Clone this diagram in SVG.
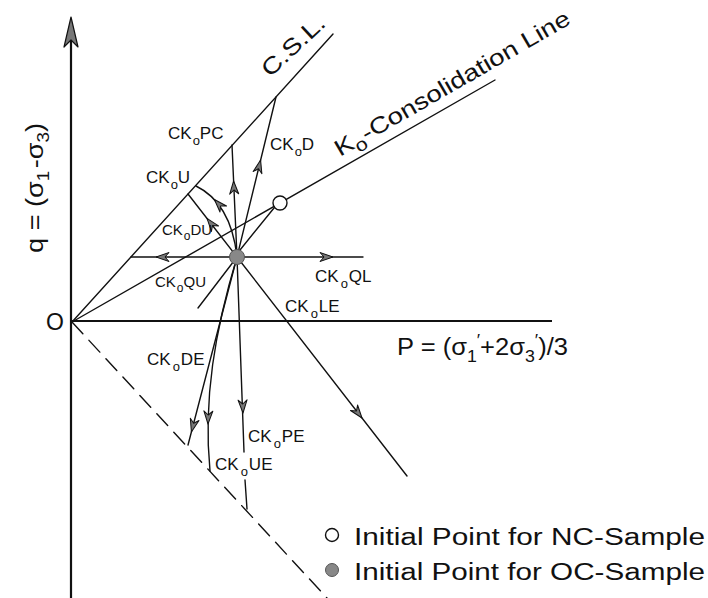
<svg xmlns="http://www.w3.org/2000/svg" width="708" height="598" viewBox="0 0 708 598">
<defs>
<style>
.ln{fill:none;stroke:#111;stroke-width:1.4;stroke-linecap:round}
.ax{fill:none;stroke:#111;stroke-width:2.2}
.lb{font-family:"Liberation Sans",Arial,sans-serif;font-size:17px;fill:#111}
.sm{font-size:15px}
.big{font-family:"Liberation Sans",Arial,sans-serif;font-size:23px;fill:#111}
</style>
<path id="ah" d="M0,0 L-13,-4.5 L-9,0 L-13,4.5 Z" fill="#777" stroke="#111" stroke-width="1" stroke-linejoin="round"/>
</defs>
<rect width="708" height="598" fill="#fff"/>

<g id="axes">
<line class="ax" x1="71" y1="598" x2="71" y2="30"/>
<path d="M71,17 L78,47 L71,40 L64,47 Z" fill="#777" stroke="#111" stroke-width="1.2" stroke-linejoin="round"/>
<line class="ax" x1="72" y1="321" x2="552" y2="321"/>
<text class="big" x="55" y="330" text-anchor="middle">O</text>
<text class="big" font-size="25" transform="translate(43,253) rotate(-90)" textLength="130" lengthAdjust="spacingAndGlyphs">q = (σ<tspan font-size="16" dy="6">1</tspan><tspan dx="2" dy="-6">-σ</tspan><tspan font-size="16" dy="6">3</tspan><tspan dy="-6">)</tspan></text>
<text class="big" x="397" y="355" font-size="26" textLength="171" lengthAdjust="spacingAndGlyphs">P = (σ<tspan font-size="16" dy="7">1</tspan><tspan font-size="16" dy="-16">′</tspan><tspan dy="9">+2σ</tspan><tspan font-size="16" dy="7">3</tspan><tspan font-size="16" dy="-16">′</tspan><tspan dy="9">)/3</tspan></text>
</g>

<g id="csl">
<line class="ln" x1="72" y1="322" x2="333" y2="34"/>
<text class="big" font-size="23" transform="translate(270,78) rotate(-43)" textLength="78" lengthAdjust="spacingAndGlyphs">C.S.L.</text>
</g>

<g id="k0line">
<line class="ln" x1="72" y1="322" x2="495" y2="80"/>
<text class="big" font-size="25" transform="translate(340,157) rotate(-30)" textLength="268" lengthAdjust="spacingAndGlyphs">K<tspan font-size="18" dy="6">o</tspan><tspan dy="-6">-Consolidation Line</tspan></text>
</g>

<g id="envelope">
<line class="ln" x1="72" y1="322" x2="327" y2="598" stroke-dasharray="16 9"/>
</g>

<g id="connectors">
<line class="ln" x1="274" y1="208" x2="240" y2="250"/>
<line class="ln" x1="237" y1="257" x2="232" y2="145"/>
<line class="ln" x1="237" y1="257" x2="276" y2="97"/>
<line class="ln" x1="237" y1="257" x2="188" y2="194"/>
<path class="ln" d="M237,257 Q231,203 196,186"/>
<line class="ln" x1="131" y1="257" x2="363" y2="257"/>
<line class="ln" x1="237" y1="257" x2="198" y2="308"/>
<line class="ln" x1="237" y1="257" x2="407" y2="476"/>
<line class="ln" x1="237" y1="257" x2="188" y2="445"/>
<path class="ln" d="M237,257 C215,330 203,400 210,471"/>
<line class="ln" x1="237" y1="257" x2="244" y2="452"/>
<line class="ln" x1="245" y1="480" x2="247" y2="509"/>
<use href="#ah" transform="translate(233.6,181) rotate(-92.6)"/>
<use href="#ah" transform="translate(260.6,160) rotate(-76.3)"/>
<use href="#ah" transform="translate(207,218.4) rotate(-127.9)"/>
<use href="#ah" transform="translate(214.4,199.5) rotate(-133)"/>
<use href="#ah" transform="translate(156,257) rotate(180)"/>
<use href="#ah" transform="translate(333,257)"/>
<use href="#ah" transform="translate(362,418) rotate(52.2)"/>
<use href="#ah" transform="translate(191.4,432) rotate(104.6)"/>
<use href="#ah" transform="translate(208,424) rotate(91.6)"/>
<use href="#ah" transform="translate(243,413) rotate(88)"/>
</g>

<g id="nc-point"><circle cx="280" cy="203" r="7" fill="#fff" stroke="#111" stroke-width="1.4"/></g>
<g id="oc-point"><circle cx="237" cy="257" r="7.5" fill="#888" stroke="#555" stroke-width="1"/></g>

<g id="labels">
<text class="lb" x="168" y="139">CK<tspan font-size="13" dx="1" dy="6">o</tspan><tspan dy="-6">PC</tspan></text>
<text class="lb" x="146" y="183">CK<tspan font-size="13" dx="1" dy="6">o</tspan><tspan dy="-6">U</tspan></text>
<text class="lb" x="270" y="150">CK<tspan font-size="13" dx="1" dy="6">o</tspan><tspan dy="-6">D</tspan></text>
<text class="lb sm" x="162" y="235">CK<tspan font-size="12" dx="1" dy="5">o</tspan><tspan dy="-5">DU</tspan></text>
<text class="lb sm" x="155" y="287">CK<tspan font-size="12" dx="1" dy="5">o</tspan><tspan dy="-5">QU</tspan></text>
<text class="lb" x="315" y="282">CK<tspan font-size="13" dx="2" dy="6">o</tspan><tspan dx="1" dy="-6">QL</tspan></text>
<text class="lb" x="285" y="312">CK<tspan font-size="13" dx="2" dy="6">o</tspan><tspan dx="1" dy="-6">LE</tspan></text>
<text class="lb" x="147" y="365">CK<tspan font-size="13" dx="2" dy="6">o</tspan><tspan dx="1" dy="-6">DE</tspan></text>
<text class="lb" x="248" y="442">CK<tspan font-size="13" dx="2" dy="6">o</tspan><tspan dx="1" dy="-6">PE</tspan></text>
<text class="lb" x="215" y="470">CK<tspan font-size="13" dx="2" dy="6">o</tspan><tspan dx="1" dy="-6">UE</tspan></text>
</g>

<g id="legend">
<circle cx="332" cy="535" r="6.5" fill="#fff" stroke="#111" stroke-width="1.4"/>
<circle cx="332" cy="570" r="6.5" fill="#888" stroke="#555" stroke-width="1"/>
<text class="big" x="354" y="545" font-size="24" textLength="351" lengthAdjust="spacingAndGlyphs">Initial Point for NC-Sample</text>
<text class="big" x="354" y="580" font-size="24" textLength="351" lengthAdjust="spacingAndGlyphs">Initial Point for OC-Sample</text>
</g>
</svg>
